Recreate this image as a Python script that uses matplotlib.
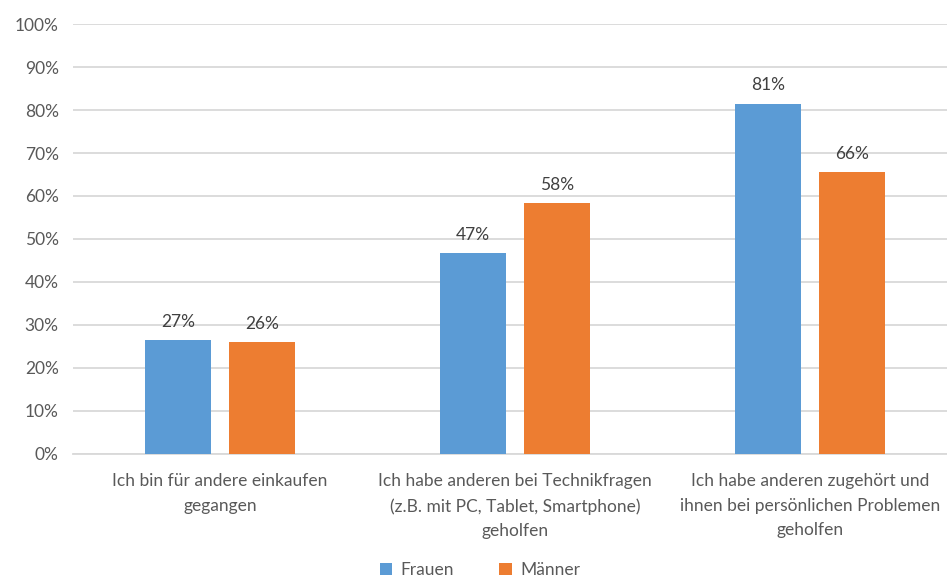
import matplotlib
matplotlib.use("Agg")
import matplotlib.pyplot as plt
import numpy as np

# data
categories = ["Ich bin für andere einkaufen\ngegangen",
              "Ich habe anderen bei Technikfragen\n(z.B. mit PC, Tablet, Smartphone)\ngeholfen",
              "Ich habe anderen zugehört und\nihnen bei persönlichen Problemen\ngeholfen"]
frauen = [26.5, 46.7, 81.5]
maenner = [26.0, 58.4, 65.5]
frauen_labels = ["27%", "47%", "81%"]
maenner_labels = ["26%", "58%", "66%"]
series_names = ["Frauen", "Männer"]

blue = "#5B9BD5"
orange = "#ED7D31"
txt = "#595959"

plt.rcParams['font.family'] = ['Lato', 'DejaVu Sans']

fig = plt.figure(figsize=(9.47, 5.79), dpi=100)
# right edge of the plot area lies just past the image border, as in the reference
ax = fig.add_axes([0.0766, 0.216, 0.9345, 0.7425])

x = np.arange(len(categories))
w = 0.224
off = w / 2 + 0.0305
b1 = ax.bar(x - off, frauen, w, color=blue, label=series_names[0], zorder=3)
b2 = ax.bar(x + off, maenner, w, color=orange, label=series_names[1], zorder=3)

for bars, labs in ((b1, frauen_labels), (b2, maenner_labels)):
    for r, lab in zip(bars, labs):
        ax.text(r.get_x() + r.get_width() / 2, r.get_height() + 2.4, lab,
                ha="center", va="bottom", fontsize=12.5, color="#404040")

ax.set_xlim(-0.5, 2.5)
ax.set_ylim(0, 100)
ax.set_yticks(range(0, 101, 10))
ax.set_yticklabels([f"{v}%" for v in range(0, 101, 10)])
ax.set_xticks(x)
ax.set_xticklabels(categories, linespacing=1.65)
ax.tick_params(axis="both", length=0, labelsize=12.5, colors=txt)
ax.tick_params(axis="y", pad=10)
ax.tick_params(axis="x", pad=14)
ax.grid(axis="y", color="#D9D9D9", linewidth=1.3, zorder=0)
for s in ["top", "right", "left"]:
    ax.spines[s].set_visible(False)
ax.spines["bottom"].set_color("#D9D9D9")
ax.spines["bottom"].set_linewidth(1.3)

leg = fig.legend(handles=[b1, b2], loc="lower center", bbox_to_anchor=(0.507, -0.025),
                 ncol=2, frameon=False, fontsize=12.5, handlelength=0.7, handleheight=0.7,
                 handletextpad=0.5, columnspacing=2.6)
for t in leg.get_texts():
    t.set_color(txt)

fig.savefig("out.png", dpi=100)
